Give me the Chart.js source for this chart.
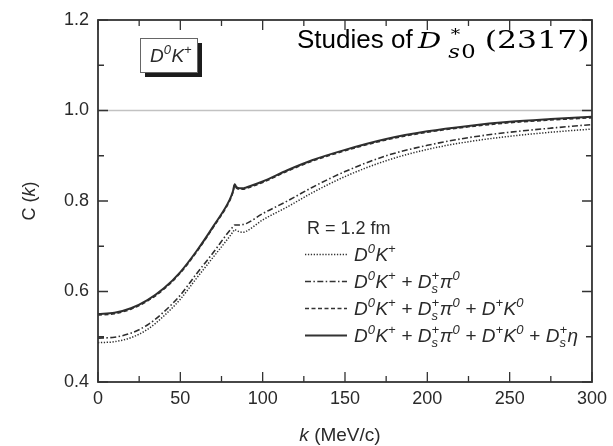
<!DOCTYPE html>
<html><head><meta charset="utf-8">
<script src="https://cdn.jsdelivr.net/npm/chart.js@4/dist/chart.umd.min.js"></script>
<style>html,body{margin:0;padding:0;background:#fff;}#wrap{width:613px;height:446px;}</style>
</head><body><div id="wrap"><canvas id="c" width="613" height="446"></canvas></div>
<script>
// ---- data ----
const kValues    = [0, 10, 20, 30, 40, 50, 60, 70, 80, 82, 83, 84, 86, 88, 90, 100, 115, 130, 150, 175, 200, 225, 250, 275, 300];
const cD0Kp      = [0.487, 0.489, 0.498, 0.516, 0.546, 0.583, 0.630, 0.676, 0.722, 0.732, 0.737, 0.735, 0.732, 0.731, 0.733, 0.758, 0.787, 0.818, 0.854, 0.889, 0.914, 0.931, 0.943, 0.952, 0.959];
const cPlusDsPi  = [0.497, 0.499, 0.508, 0.526, 0.555, 0.592, 0.640, 0.686, 0.735, 0.743, 0.747, 0.747, 0.747, 0.748, 0.750, 0.772, 0.800, 0.830, 0.865, 0.900, 0.923, 0.940, 0.952, 0.961, 0.969];
const cPlusDpK0  = [0.548, 0.551, 0.561, 0.579, 0.605, 0.641, 0.688, 0.742, 0.801, 0.820, 0.835, 0.829, 0.826, 0.826, 0.828, 0.841, 0.866, 0.888, 0.911, 0.935, 0.952, 0.964, 0.973, 0.979, 0.984];
const cPlusDsEta = [0.550, 0.553, 0.563, 0.581, 0.607, 0.643, 0.690, 0.744, 0.803, 0.822, 0.837, 0.831, 0.828, 0.828, 0.830, 0.843, 0.868, 0.890, 0.913, 0.937, 0.954, 0.966, 0.975, 0.981, 0.986];
const xTicks = [0, 50, 100, 150, 200, 250, 300];
const yTicks = [0.4, 0.6, 0.8, 1.0, 1.2];
const seriesLabels = ['D0K+', 'D0K+ + Ds+π0', 'D0K+ + Ds+π0 + D+K0', 'D0K+ + Ds+π0 + D+K0 + Ds+η'];
const refValue = 1.0;

const INK = '#2a2a2a';
const SANS = '"Liberation Sans", Arial, sans-serif';
const SERIF = '"DejaVu Serif", serif';

const pts = arr => kValues.map((k, i) => ({x: k, y: arr[i]}));

const styles = [
  {borderDash: [1.3, 1.6], borderWidth: 1.5},
  {borderDash: [6, 2.4, 1.5, 2.4], borderWidth: 1.6},
  {borderDash: [4, 2.5], borderWidth: 1.6},
  {borderDash: [], borderWidth: 2}
];
const series = [cD0Kp, cPlusDsPi, cPlusDpK0, cPlusDsEta];

// rich text segments for the legend
const base = [['D','i'],['0','sup'],['K','i'],['+','sup']];
const dsPi = [[' + ','r'],['D','i'],[['+','s'],'ss'],['π','i'],['0','sup']];
const dpK0 = [[' + ','r'],['D','i'],['+','sup'],['K','i'],['0','sup']];
const dsEta = [[' + ','r'],['D','i'],[['+','s'],'ss'],['η','i']];
const legendRich = [base, base.concat(dsPi), base.concat(dsPi, dpK0), base.concat(dsPi, dpK0, dsEta)];

function drawRich(ctx, x, y, segs, size) {
  const small = Math.round(size * 0.68);
  for (const [t, kind] of segs) {
    if (kind === 'i' || kind === 'r') {
      ctx.font = (kind === 'i' ? 'italic ' : '') + size + 'px ' + SANS;
      ctx.fillText(t, x, y); x += ctx.measureText(t).width;
    } else if (kind === 'sup') {
      ctx.font = 'italic ' + small + 'px ' + SANS;
      ctx.fillText(t, x, y - size * 0.42); x += ctx.measureText(t).width + 0.5;
    } else if (kind === 'ss') {
      ctx.font = 'italic ' + small + 'px ' + SANS;
      const w1 = ctx.measureText(t[0]).width, w2 = ctx.measureText(t[1]).width;
      ctx.fillText(t[0], x, y - size * 0.42);
      ctx.fillText(t[1], x, y + size * 0.3);
      x += Math.max(w1, w2) + 0.5;
    }
  }
  return x;
}

const decor = {
  id: 'decor',
  beforeDatasetsDraw(chart) {
    const {ctx, chartArea: a, scales: {y}} = chart;
    ctx.save();
    ctx.strokeStyle = '#c2c2c2'; ctx.lineWidth = 1.5;
    const py = y.getPixelForValue(refValue);
    ctx.beginPath(); ctx.moveTo(a.left, py); ctx.lineTo(a.right, py); ctx.stroke();
    ctx.restore();
  },
  afterDraw(chart) {
    const {ctx, chartArea: a, scales: {x, y}} = chart;
    ctx.save();
    // frame
    ctx.strokeStyle = '#333'; ctx.lineWidth = 1.8;
    ctx.strokeRect(a.left, a.top, a.right - a.left, a.bottom - a.top);
    // inward ticks
    ctx.lineWidth = 1.3;
    ctx.beginPath();
    const xs = xTicks, ys = yTicks;
    const tk = (px, len, horiz) => {
      if (horiz) { ctx.moveTo(px, a.bottom); ctx.lineTo(px, a.bottom - len); ctx.moveTo(px, a.top); ctx.lineTo(px, a.top + len); }
      else { ctx.moveTo(a.left, px); ctx.lineTo(a.left + len, px); ctx.moveTo(a.right, px); ctx.lineTo(a.right - len, px); }
    };
    xs.forEach((v, i) => {
      tk(x.getPixelForValue(v), 10, true);
      if (i < xs.length - 1) tk(x.getPixelForValue((v + xs[i + 1]) / 2), 6, true);
    });
    ys.forEach((v, i) => {
      tk(y.getPixelForValue(v), 10, false);
      if (i < ys.length - 1) tk(y.getPixelForValue((v + ys[i + 1]) / 2), 6, false);
    });
    ctx.stroke();

    ctx.fillStyle = INK;
    ctx.textBaseline = 'alphabetic';
    // axis titles
    let xt = [['k', 'italic 19px ' + SANS], [' (MeV/c)', '19px ' + SANS]];
    let w = 0; xt.forEach(([t, f]) => { ctx.font = f; w += ctx.measureText(t).width; });
    let cx = 340 - w / 2;
    xt.forEach(([t, f]) => { ctx.font = f; ctx.fillText(t, cx, 441); cx += ctx.measureText(t).width; });

    ctx.save();
    ctx.translate(35, (a.top + a.bottom) / 2);
    ctx.rotate(-Math.PI / 2);
    let yt = [['C (', '18px ' + SANS], ['k', 'italic 18px ' + SANS], [')', '18px ' + SANS]];
    w = 0; yt.forEach(([t, f]) => { ctx.font = f; w += ctx.measureText(t).width; });
    cx = -w / 2;
    yt.forEach(([t, f]) => { ctx.font = f; ctx.fillText(t, cx, 0); cx += ctx.measureText(t).width; });
    ctx.restore();

    // boxed label
    const bx = a.left + 42, by = a.top + 18, bw = 57, bh = 34;
    ctx.fillStyle = '#1c1c1c';
    ctx.fillRect(bx + 5, by + 5, bw, bh);
    ctx.fillStyle = '#fff';
    ctx.fillRect(bx, by, bw, bh);
    ctx.strokeStyle = '#666'; ctx.lineWidth = 1;
    ctx.strokeRect(bx + 0.5, by + 0.5, bw, bh);
    ctx.fillStyle = INK;
    drawRich(ctx, bx + 10, by + 24, base, 19);

    // title
    ctx.fillStyle = '#000';
    ctx.font = '26px ' + SANS;
    const ty = 48;
    ctx.fillText('Studies of', 297, ty);
    ctx.save();
    ctx.translate(418, ty);
    ctx.scale(1.26, 1);
    ctx.font = 'italic 23px ' + SERIF;
    ctx.fillText('D', 0, 0);
    ctx.font = '15px ' + SERIF;
    ctx.fillText('*', 26, -9);
    ctx.font = 'italic 18px ' + SERIF;
    ctx.fillText('s', 24, 10);
    const sw = ctx.measureText('s').width;
    ctx.font = '18px ' + SERIF;
    ctx.fillText('0', 24 + sw + 1, 10);
    ctx.font = '25px ' + SERIF;
    ctx.fillText('(2317)', 53, 0);
    ctx.restore();

    // legend
    ctx.fillStyle = INK;
    ctx.font = '18px ' + SANS;
    ctx.fillText('R = 1.2 fm', 307, 234);
    const rows = [254.5, 281.5, 308.5, 335.5];
    rows.forEach((ry, i) => {
      ctx.strokeStyle = '#333';
      ctx.lineWidth = styles[i].borderWidth;
      ctx.setLineDash(styles[i].borderDash);
      ctx.beginPath(); ctx.moveTo(305, ry); ctx.lineTo(347, ry); ctx.stroke();
      ctx.setLineDash([]);
      drawRich(ctx, 354, ry + 6, legendRich[i], 19);
    });
    ctx.restore();
  }
};

new Chart(document.getElementById('c'), {
  type: 'line',
  data: {
    datasets: [3, 2, 1, 0].map(i => ({
      label: seriesLabels[i],
      data: pts(series[i]),
      borderColor: '#2e2e2e',
      borderWidth: styles[i].borderWidth,
      borderDash: styles[i].borderDash,
      pointRadius: 0,
      fill: false,
      cubicInterpolationMode: 'monotone'
    }))
  },
  options: {
    responsive: false,
    animation: false,
    devicePixelRatio: 1,
    layout: {padding: {top: 20, right: 16, left: 0, bottom: 0}},
    plugins: {legend: {display: false}, tooltip: {enabled: false}},
    scales: {
      x: {
        type: 'linear', min: 0, max: 300,
        afterBuildTicks: s => { s.ticks = xTicks.map(v => ({value: v})); },
        afterFit: s => { s.height = 64; },
        ticks: {font: {size: 18, family: SANS}, color: INK, padding: 6, maxRotation: 0},
        grid: {display: false, drawTicks: false},
        border: {display: false}
      },
      y: {
        min: 0.4, max: 1.2,
        afterBuildTicks: s => { s.ticks = yTicks.map(v => ({value: v})); },
        afterFit: s => { s.width = 98; },
        ticks: {font: {size: 18, family: SANS}, color: INK, padding: 9, callback: v => Number(v).toFixed(1)},
        grid: {display: false, drawTicks: false},
        border: {display: false}
      }
    }
  },
  plugins: [decor]
});
</script></body></html>
